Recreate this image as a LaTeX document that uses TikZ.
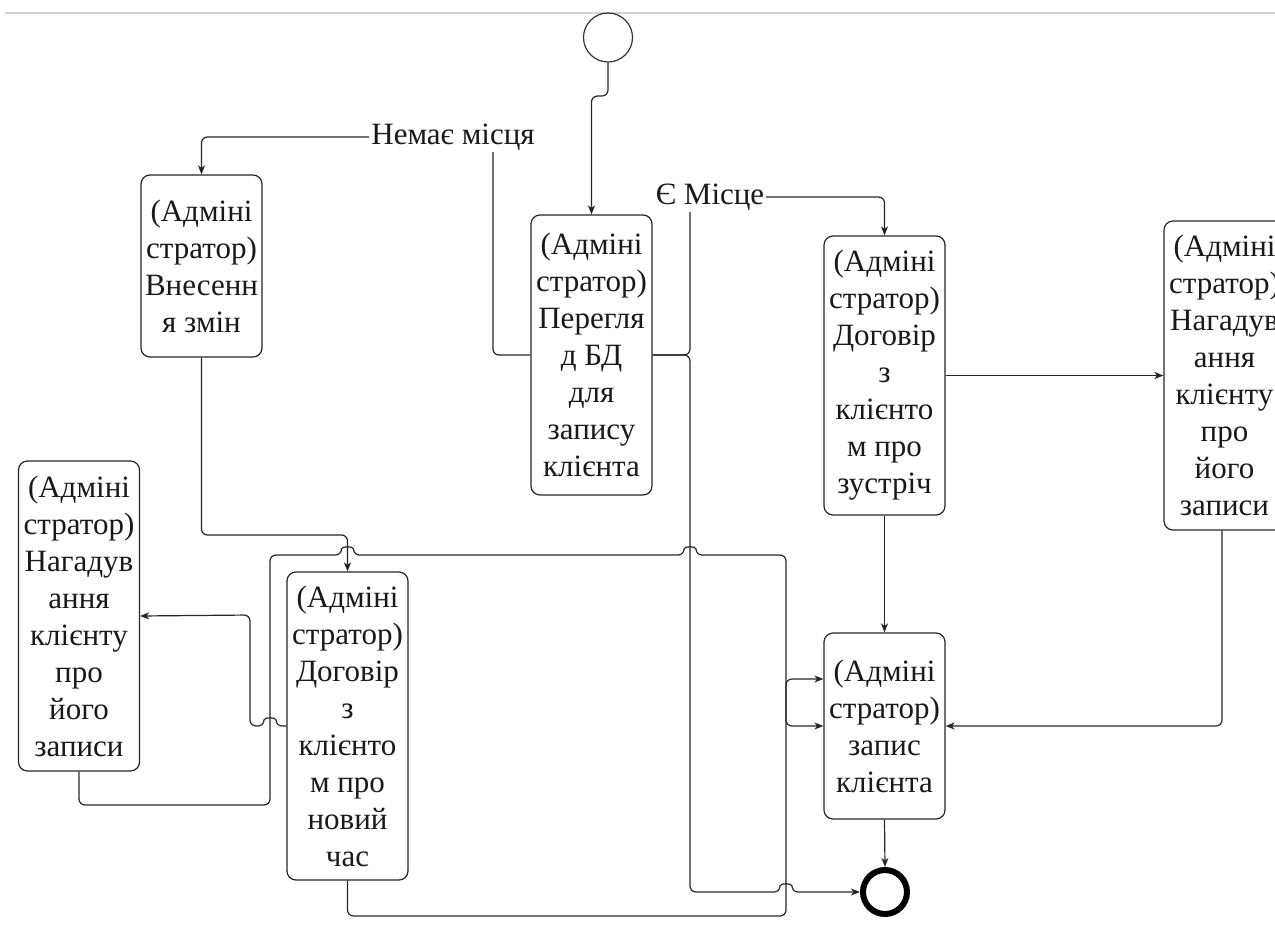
\documentclass[tikz,border=0pt]{standalone}
\usepackage{fontspec}
\setmainfont{Liberation Serif}
\usetikzlibrary{arrows.meta}

\begin{document}
\begin{tikzpicture}[x=1pt,y=-1pt,
  act/.style={draw=black!85, line width=1.2pt, rounded corners=9pt,
    minimum width=121pt, align=center, inner sep=0pt, text=black!90,
    font=\fontsize{31}{37}\selectfont},
  flow/.style={draw=black!85, line width=1.2pt, rounded corners=6pt,
    -{Stealth[length=9pt,width=7pt,inset=2.5pt]}},
  lbl/.style={fill=white, inner sep=2pt, text=black!90,
    font=\fontsize{31}{37}\selectfont},
  % line jumps over crossing connectors (rightwards / leftwards)
  hopR/.style args={#1/#2}{insert path={-- (#1-6,#2) .. controls (#1-6,#2-9) and (#1+6,#2-9) .. (#1+6,#2)}},
  hopL/.style args={#1/#2}{insert path={-- (#1+6,#2) .. controls (#1+6,#2-9) and (#1-6,#2-9) .. (#1-6,#2)}}
]
\useasboundingbox (0,0) rectangle (1275,935);
\clip (0,0) rectangle (1275,935);

% page rule
\draw[gray!35, line width=2pt] (5,13) -- (1275,13);

% initial and final states
\node[draw=black!80, circle, line width=1.2pt, minimum size=49pt, inner sep=0pt] (S) at (608,37.5) {};
\node[draw=black, circle, line width=6pt, minimum size=44pt, inner sep=0pt] (T) at (885,892) {};

% activities
\node[act, minimum height=182pt] (A) at (201.5,266) {(Адміні\\стратор)\\Внесенн\\я змін};
\node[act, minimum height=280pt] (B) at (591.5,355) {(Адміні\\стратор)\\Перегля\\д БД\\для\\запису\\клієнта};
\node[act, minimum height=279pt] (C) at (884.5,375.5) {(Адміні\\стратор)\\Договір\\з\\клієнто\\м про\\зустріч};
\node[act, minimum height=309pt] (D) at (1224.5,375.5) {(Адміні\\стратор)\\Нагадув\\ання\\клієнту\\про\\його\\записи};
\node[act, minimum height=310pt] (E) at (79,616) {(Адміні\\стратор)\\Нагадув\\ання\\клієнту\\про\\його\\записи};
\node[act, minimum height=308pt] (F) at (347.5,726) {(Адміні\\стратор)\\Договір\\з\\клієнто\\м про\\новий\\час};
\node[act, minimum height=186pt] (G) at (884.5,726) {(Адміні\\стратор)\\запис\\клієнта};

% transitions
\draw[flow] (S.south) -- (608,96) -- (591.5,96) -- (B.north);

\draw[flow] (B.west) -- (493,355) -- (493,137) -- (201.5,137) -- (A.north);
\node[lbl] (noplace) at (453,137) {Немає місця};

\draw[flow] (B.east) -- (690,355) -- (690,197) -- (884.5,197) -- (C.north);
\node[lbl] (place) at (710,197) {Є Місце};

\draw[flow] (B.east) -- (690,355) -- (690,892) [hopR=786/892] -- (T.west);

\draw[flow] (C.east) -- (D.west);
\draw[flow] (C.south) -- (G.north);
\draw[flow] ([xshift=-2.5pt]D.south) -- (1222,726) -- (G.east);
\draw[flow] (G.south) -- (T.north);

\draw[flow] (A.south) -- (201.5,535) -- (347.5,535) -- (F.north);

\draw[flow] (E.south) -- (79,805) -- (270,805) -- (270,555)
  [hopR=347.5/555] [hopR=690/555] -- (786,555) -- (786,726) -- (G.west);

\draw[flow] (F.west) [hopL=270/726] -- (250,726) -- (250,615) -- (E.east);

\draw[flow] (F.south) -- (347.5,916) -- (786,916) -- (786,679) -- ([yshift=47pt]G.west);
\end{tikzpicture}
\end{document}
